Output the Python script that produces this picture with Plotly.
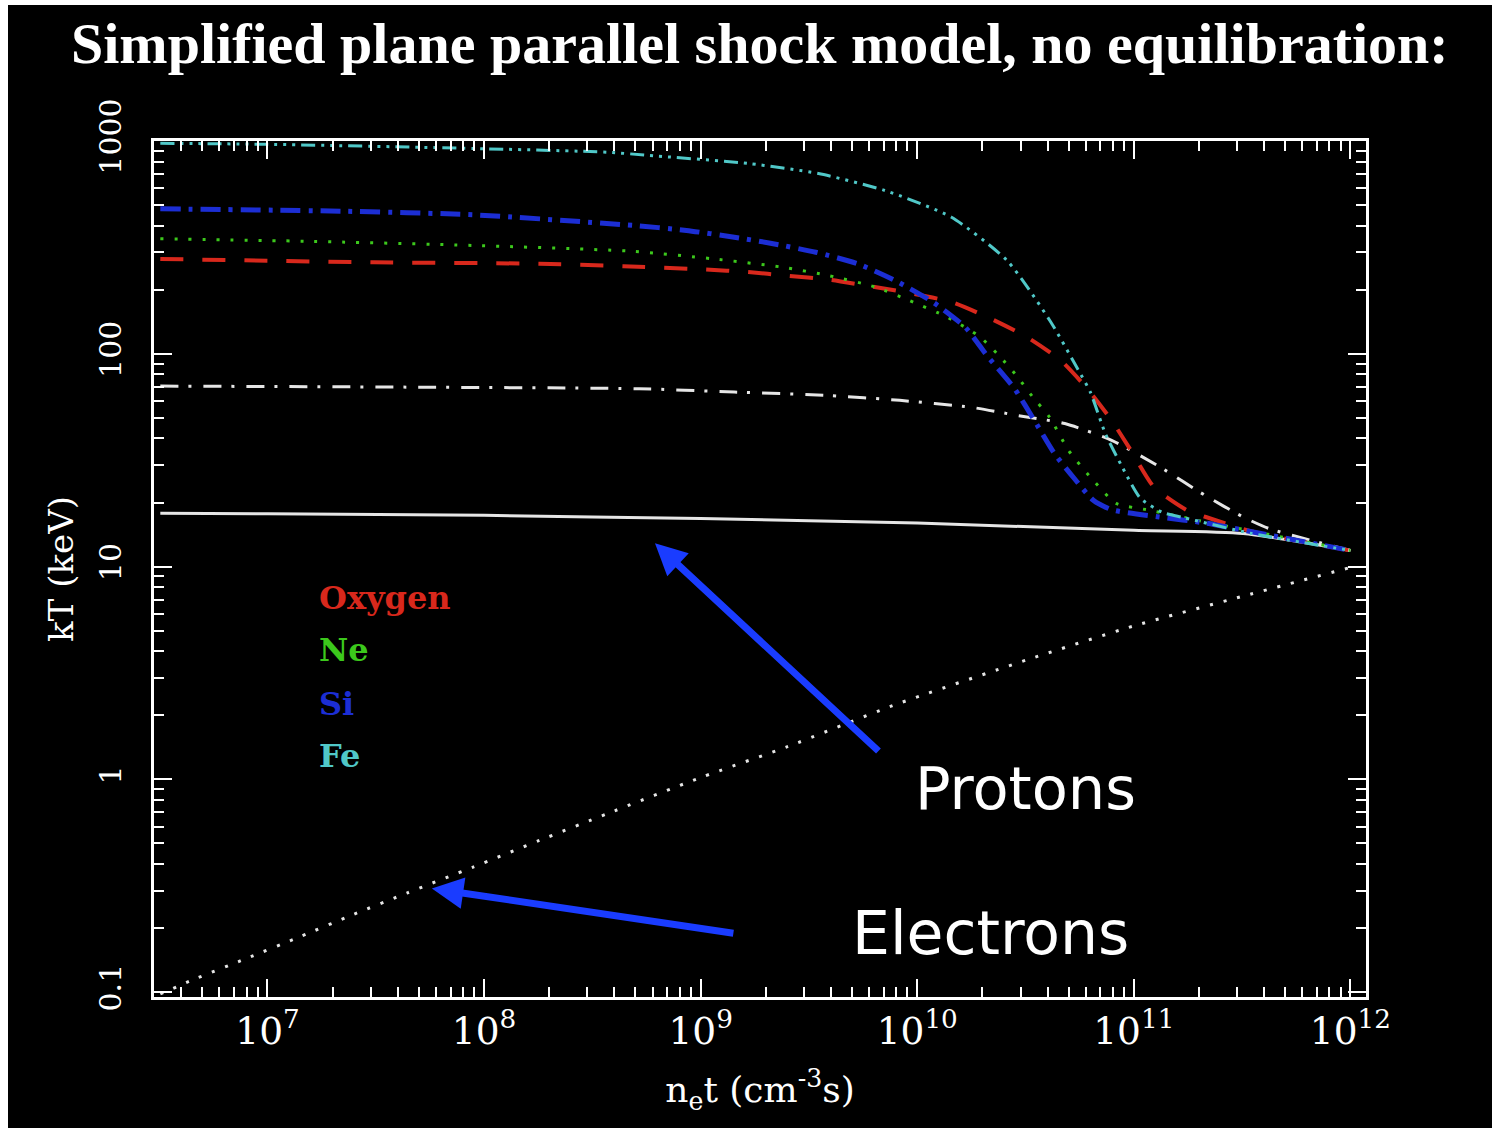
import plotly.graph_objects as go

# ---------------- data (n_e t in cm^-3 s, kT in keV) ----------------
nt_fe = [3.2e6, 1e7, 8.9e7, 3.7e8, 5.8e8, 1.66e9, 3.5e9, 7.1e9, 1.44e10, 2.6e10,
         4.1e10, 5.5e10, 6.3e10, 7.4e10, 8.9e10, 1.07e11, 1.35e11, 1.69e11, 3.5e11, 1e12]
kt_fe = [975, 965, 922, 886, 855, 784, 703, 585, 438, 274,
         143, 85, 66, 42, 29, 21, 18, 17.0, 14.3, 11.9]

nt_si = [3.2e6, 2.2e7, 8.9e7, 4.9e8, 8.6e8, 1.43e9, 2.1e9, 3.4e9, 5.3e9, 7.9e9, 1.18e10,
         1.67e10, 2.1e10, 2.8e10, 3.5e10, 4.3e10, 5.3e10, 6.5e10, 7.9e10, 1.31e11, 2.15e11, 3.6e11, 1e12]
kt_si = [480, 468, 450, 401, 380, 353, 331, 300, 265, 221, 175,
         133, 98, 69, 48, 34, 26, 20.5, 18.5, 17.1, 16.0, 14.5, 11.9]

nt_ne = [3.2e6, 1.5e7, 8.9e7, 4.9e8, 1.12e9, 2.4e9, 3.9e9, 6.4e9, 9.2e9, 1.37e10, 1.95e10,
         2.5e10, 2.9e10, 3.4e10, 4.1e10, 5.0e10, 6.5e10, 8.3e10, 1.18e11, 2.15e11, 1e12]
kt_ne = [347, 338, 323, 303, 280, 255, 233, 206, 178, 149, 120,
         93, 78, 63, 50, 35.1, 25.4, 19.8, 18.4, 16.2, 11.9]

nt_o = [3.2e6, 3.1e7, 1.8e8, 4.4e8, 1.06e9, 1.66e9, 2.5e9, 3.9e9, 5.8e9, 8.7e9, 1.44e10,
        2.1e10, 3.2e10, 4.6e10, 6.1e10, 7.9e10, 9.7e10, 1.24e11, 1.76e11, 2.15e11, 3.6e11, 1e12]
kt_o = [279, 269, 265, 258, 249, 242, 233, 223, 209, 195, 175,
        149, 120, 93, 68.5, 48.6, 35.1, 23.6, 18.4, 17.1, 14.5, 11.9]

nt_ion = [3.2e6, 4.4e7, 5.2e8, 1.43e9, 3.9e9, 8.3e9, 1.76e10, 2.9e10, 4.8e10, 7.9e10,
          1.31e11, 2.15e11, 3.2e11, 4.2e11, 1e12]
kt_ion = [70.5, 69.7, 68.5, 66.1, 63.7, 60.4, 56.1, 51.3, 47.0, 39.2,
          29.5, 21.5, 17.1, 15.1, 11.9]

nt_p = [3.2e6, 1e7, 1e8, 1e9, 1e10, 1e11, 3.2e11, 1e12]
kt_p = [17.8, 17.7, 17.4, 16.8, 16.0, 14.8, 14.3, 11.9]

nt_e = [3.2e6, 4.5e6, 8e6, 1.41e7, 2.5e7, 4.4e7, 8.9e7, 1.8e8, 3.7e8, 1e9,
        2.5e9, 7.7e9, 3.2e10, 1e11, 3.2e11, 1e12]
kt_e = [0.098, 0.114, 0.144, 0.182, 0.232, 0.292, 0.387, 0.516, 0.689, 1.02,
        1.42, 2.22, 3.64, 5.26, 7.26, 9.9]

species = ["Oxygen", "Ne", "Si", "Fe"]
species_colors = ["#d8281c", "#3cc81c", "#1c2ed4", "#50c8c8"]

title_text = "Simplified plane parallel shock model, no equilibration:"
x_title = "n<sub>e</sub>t (cm<sup>-3</sup>s)"
y_title = "kT (keV)"

# ---------------- figure ----------------
W, H = 1492, 1128
L, R, T, B = 154, 126, 141, 131

fig = go.Figure()

def add_line(x, y, color, dash, width, name, shape="spline"):
    fig.add_trace(go.Scatter(x=x, y=y, mode="lines", name=name,
                             line=dict(color=color, dash=dash, width=width, shape=shape, smoothing=0.6),
                             showlegend=False, hoverinfo="skip"))

add_line(nt_e, kt_e, "#e6e6e6", "3px,11px", 3, "Electrons")
add_line(nt_p, kt_p, "#e6e6e6", "solid", 3, "Protons")
add_line(nt_ion, kt_ion, "#e6e6e6", "18px,10px,3px,12px", 3, "ions")
add_line(nt_o, kt_o, species_colors[0], "23px,19px", 4, "Oxygen")
add_line(nt_ne, kt_ne, species_colors[1], "3px,11px", 3, "Ne")
add_line(nt_si, kt_si, species_colors[2], "20px,8px,4px,8px", 5, "Si")
add_line(nt_fe, kt_fe, species_colors[3], "14px,6px,3px,6px,3px,6px,3px,6px", 3, "Fe")

serif = "DejaVu Serif"
axis_common = dict(
    type="log", showgrid=False, zeroline=False,
    showline=True, linecolor="white", linewidth=3, mirror="allticks",
    ticks="inside", ticklen=18, tickwidth=2, tickcolor="white",
    tickfont=dict(family=serif, size=30, color="white"),
    minor=dict(ticks="inside", ticklen=10, tickwidth=2, tickcolor="white", dtick="D1", showgrid=False),
    dtick=1,
)

fig.update_xaxes(**axis_common, range=[6.476, 12.072], exponentformat="power",
                 ticklabelstandoff=0,
                 title=dict(text=x_title, font=dict(family=serif, size=36, color="white"), standoff=26))
fig.update_yaxes(**axis_common, range=[-1.023, 3.0], exponentformat="none", tickangle=-90,
                 ticklabelstandoff=18,
                 title=dict(text=y_title, font=dict(family=serif, size=34, color="white"), standoff=10))

annotations = []
# title
annotations.append(dict(text="<b>" + title_text + "</b>", xref="paper", yref="paper",
                        x=(760 - L) / (W - L - R), y=(H - B - 43) / (H - T - B),
                        xanchor="center", yanchor="middle", showarrow=False,
                        font=dict(family="Liberation Serif", size=58, color="white")))
# species labels
label_y_px = [598, 650, 704, 756]
for name, col, py in zip(species, species_colors, label_y_px):
    annotations.append(dict(text="<b>" + name + "</b>", xref="paper", yref="paper",
                            x=(317 - L) / (W - L - R), y=(H - B - py) / (H - T - B),
                            xanchor="left", yanchor="middle", showarrow=False,
                            font=dict(family=serif, size=32, color=col)))
# Protons / Electrons labels
annotations.append(dict(text="Protons", xref="paper", yref="paper",
                        x=(1025 - L) / (W - L - R), y=(H - B - 788) / (H - T - B),
                        xanchor="center", yanchor="middle", showarrow=False,
                        font=dict(family="DejaVu Sans", size=59, color="white")))
annotations.append(dict(text="Electrons", xref="paper", yref="paper",
                        x=(990 - L) / (W - L - R), y=(H - B - 933) / (H - T - B),
                        xanchor="center", yanchor="middle", showarrow=False,
                        font=dict(family="DejaVu Sans", size=60, color="white")))
# arrows (tip positions in log10 data units)
arrow_col = "#1a3cff"
annotations.append(dict(text="", x=8.789, y=1.109, xref="x", yref="y", ax=225, ay=209,
                        showarrow=True, arrowhead=2, arrowsize=0.9, arrowwidth=7, arrowcolor=arrow_col))
annotations.append(dict(text="", x=7.759, y=-0.513, xref="x", yref="y", ax=303, ay=45,
                        showarrow=True, arrowhead=2, arrowsize=0.9, arrowwidth=7, arrowcolor=arrow_col))

pw, ph = W - L - R, H - T - B
shapes = [dict(type="rect", xref="paper", yref="paper", layer="below",
               x0=(8 - L) / pw, x1=(W + 5 - L) / pw, y0=(H - B - H - 5) / ph, y1=(H - B - 5) / ph,
               fillcolor="black", line=dict(width=0))]

fig.update_layout(width=W, height=H, margin=dict(l=L, r=R, t=T, b=B, autoexpand=False),
                  paper_bgcolor="white", plot_bgcolor="black",
                  annotations=annotations, shapes=shapes, showlegend=False)

fig.write_html("out.html")
